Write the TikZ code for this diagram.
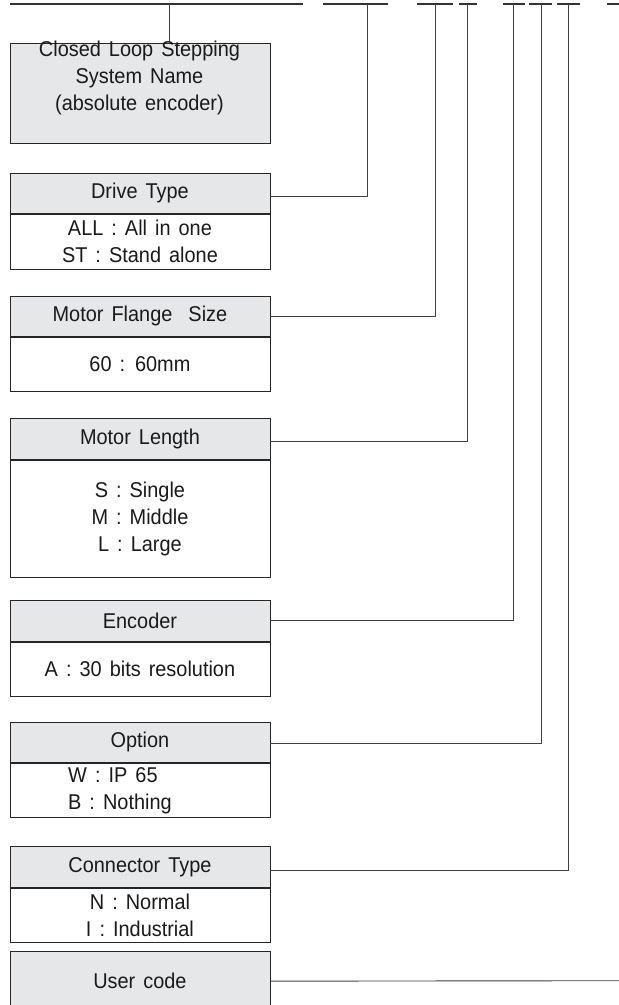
\documentclass[tikz,border=0pt]{standalone}
\usepackage{fontspec}
\setmainfont{Liberation Sans}[WordSpace=1.45, FakeStretch=0.93]
\definecolor{hdrgray}{HTML}{E6E7E8}
\definecolor{ink}{HTML}{1A1A1A}
\begin{document}
\begin{tikzpicture}[x=1bp,y=-1bp,
  box/.style={draw=black!85, line width=0.9bp, minimum width=260bp, inner sep=0pt,
    anchor=north west, font=\fontsize{21.5}{27}\selectfont, text=ink, align=center},
  hdr/.style={box, fill=hdrgray},
  body/.style={box, fill=white},
  txt/.style={inner sep=0pt, font=\fontsize{21.5}{27}\selectfont, text=ink, align=center},
  conn/.style={draw=black!75, line width=0.9bp},
  bar/.style={draw=black!80, line width=2.7bp}]
\clip (0,0) rectangle (619,1005);
\fill[white] (0,0) rectangle (619,1005);

% code bars
\draw[bar] (10,4) -- (303,4);
\draw[bar] (323,4) -- (388,4);
\draw[bar] (416.5,4) -- (453,4);
\draw[bar] (459,4) -- (476.5,4);
\draw[bar] (502.6,4) -- (525,4);
\draw[bar] (529,4) -- (552,4);
\draw[bar] (556.6,4) -- (579.5,4);
\draw[bar] (607,4) -- (619,4);
\coordinate (b1) at (169,4);
\coordinate (b2) at (367.5,4);
\coordinate (b3) at (435,4);
\coordinate (b4) at (467,4);
\coordinate (b5) at (513,4);
\coordinate (b6) at (541,4);
\coordinate (b7) at (568,4);
\coordinate (b8) at (619,980.7);

% system name
\node[hdr, minimum height=100bp] (sys) at (9.5,42.7) {};
\node[txt] (syst) at (139.5,78) {Closed Loop Stepping\\System Name\\(absolute encoder)};

% drive type
\node[hdr, minimum height=40.3bp] (dth) at (9.5,172.7) {Drive Type};
\node[body, minimum height=54.7bp] (dtb) at (dth.south west) {ALL : All in one\\ST : Stand alone};

% motor flange
\node[hdr, minimum height=40.3bp] (mfh) at (9.5,295.7) {Motor Flange\ \ Size};
\node[body, minimum height=54.3bp] (mfb) at (mfh.south west) {60 : 60mm};

% motor length
\node[hdr, minimum height=40.7bp] (mlh) at (9.5,418.3) {Motor Length};
\node[body, minimum height=117bp] (mlb) at (mlh.south west) {S : Single\\M : Middle\\L : Large};

% encoder
\node[hdr, minimum height=40.7bp] (enh) at (9.5,600) {Encoder};
\node[body, minimum height=54.3bp] (enb) at (enh.south west) {A : 30 bits resolution};

% option
\node[hdr, minimum height=40.3bp] (oph) at (9.5,721.7) {Option};
\node[body, minimum height=54bp] (opb) at (oph.south west) {};
\node[txt, anchor=west, align=left] (opt) at (68,790.5) {W : IP 65\\B : Nothing};

% connector type
\node[hdr, minimum height=41bp] (cth) at (9.5,846) {Connector Type};
\node[body, minimum height=54bp] (ctb) at (cth.south west) {N : Normal\\I : Industrial};

% user code
\node[hdr, minimum height=60bp] (uch) at (9.5,950.7) {User code};

% connectors
\draw[conn] (b1) -- (b1 |- sys.north);
\draw[conn] ([yshift=-3bp]dth.east) -| (b2);
\draw[conn] (mfh.east) -| (b3);
\draw[conn] ([yshift=-2bp]mlh.east) -| (b4);
\draw[conn] (enh.east) -| (b5);
\draw[conn] ([yshift=-1.5bp]oph.east) -| (b6);
\draw[conn] ([yshift=-3.5bp]cth.east) -| (b7);
\draw[conn] (uch.east) -- (b8);
\end{tikzpicture}
\end{document}
